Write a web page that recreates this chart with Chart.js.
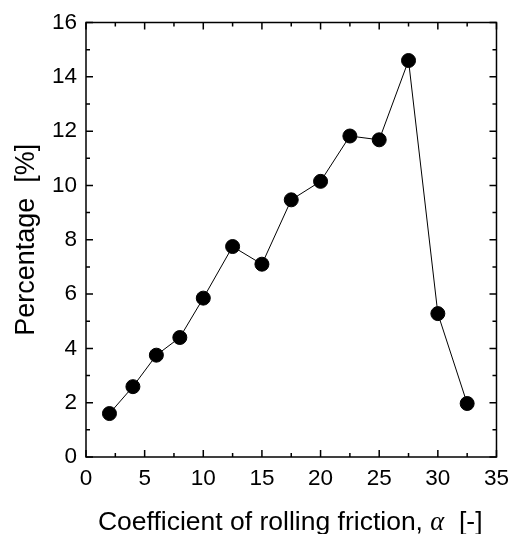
<!DOCTYPE html>
<html>
<head>
<meta charset="utf-8">
<script src="https://cdn.jsdelivr.net/npm/chart.js@4.4.1/dist/chart.umd.min.js"></script>
<style>
  html, body { margin: 0; padding: 0; background: #fff; }
  #wrap { width: 517px; height: 534px; }
</style>
</head>
<body>
<div id="wrap"><canvas id="chart" width="517" height="534"></canvas></div>
<script>
const alphaValues = [2, 4, 6, 8, 10, 12.5, 15, 17.5, 20, 22.5, 25, 27.5, 30, 32.5];
const percentages = [1.6, 2.59, 3.75, 4.4, 5.85, 7.75, 7.1, 9.47, 10.15, 11.82, 11.68, 14.6, 5.28, 1.97];
const xTicks = [0, 5, 10, 15, 20, 25, 30, 35];
const yTicks = [0, 2, 4, 6, 8, 10, 12, 14, 16];

const FONT = "'Liberation Sans', Arial, sans-serif";

// inward ticks on all four sides, plus the frame and the x title
const framePlugin = {
  id: "frame",
  afterDraw(chart) {
    const { ctx, chartArea: a, scales } = chart;
    const x = scales.x, y = scales.y;
    ctx.save();
    ctx.strokeStyle = "#000";
    ctx.lineWidth = 1.5;
    ctx.strokeRect(a.left, a.top, a.right - a.left, a.bottom - a.top);

    ctx.beginPath();
    for (let v = 0; v <= 35; v += 2.5) {
      const px = x.getPixelForValue(v);
      const len = v % 5 === 0 ? 7 : 4;
      ctx.moveTo(px, a.bottom); ctx.lineTo(px, a.bottom - len);
      ctx.moveTo(px, a.top); ctx.lineTo(px, a.top + len);
    }
    for (let v = 0; v <= 16; v += 1) {
      const py = y.getPixelForValue(v);
      const len = v % 2 === 0 ? 7 : 4;
      ctx.moveTo(a.left, py); ctx.lineTo(a.left + len, py);
      ctx.moveTo(a.right, py); ctx.lineTo(a.right - len, py);
    }
    ctx.stroke();

    // x axis title with italic alpha
    const part1 = "Coefficient of rolling friction, ";
    const part2 = "\u03b1";
    const part3 = "  [-]";
    const f1 = "26.5px " + FONT;
    const f2 = "italic 26.5px 'Liberation Serif', 'DejaVu Serif', serif";
    ctx.font = f1;
    const w1 = ctx.measureText(part1).width;
    const w3 = ctx.measureText(part3).width;
    ctx.font = f2;
    const w2 = ctx.measureText(part2).width;
    const cx = (a.left + a.right) / 2 - 1;
    let sx = cx - (w1 + w2 + w3) / 2;
    const base = 530;
    ctx.fillStyle = "#000";
    ctx.textBaseline = "alphabetic";
    ctx.textAlign = "left";
    ctx.font = f1; ctx.fillText(part1, sx, base); sx += w1;
    ctx.font = f2; ctx.fillText(part2, sx, base); sx += w2;
    ctx.font = f1; ctx.fillText(part3, sx, base);
    ctx.restore();
  }
};

new Chart(document.getElementById("chart").getContext("2d"), {
  type: "scatter",
  data: {
    datasets: [
      {
        data: alphaValues.map((a, i) => ({ x: a, y: percentages[i] })),
        showLine: true,
        borderColor: "#000",
        borderWidth: 1,
        backgroundColor: "#000",
        pointRadius: 7,
        pointHoverRadius: 7,
      },
    ],
  },
  options: {
    responsive: false,
    animation: false,
    layout: { padding: { top: 18, right: 20, left: 0, bottom: 0 } },
    plugins: { legend: { display: false }, tooltip: { enabled: false } },
    scales: {
      x: {
        type: "linear",
        min: 0,
        max: 35,
        afterBuildTicks: (s) => { s.ticks = xTicks.map((v) => ({ value: v })); },
        afterFit: (s) => { s.height = 77; },
        grid: { display: false, drawTicks: false },
        border: { display: false },
        ticks: { color: "#000", font: { family: FONT, size: 22.5 }, padding: 8, maxRotation: 0 },
      },
      y: {
        min: 0,
        max: 16,
        afterBuildTicks: (s) => { s.ticks = yTicks.map((v) => ({ value: v })); },
        afterFit: (s) => { s.width = 86; },
        grid: { display: false, drawTicks: false },
        border: { display: false },
        ticks: { color: "#000", font: { family: FONT, size: 22.5 }, padding: 9 },
        title: {
          display: true,
          text: "Percentage  [%]",
          color: "#000",
          font: { family: FONT, size: 27 },
          padding: { top: 10, bottom: 0 },
        },
      },
    },
  },
  plugins: [framePlugin],
});
</script>
</body>
</html>
